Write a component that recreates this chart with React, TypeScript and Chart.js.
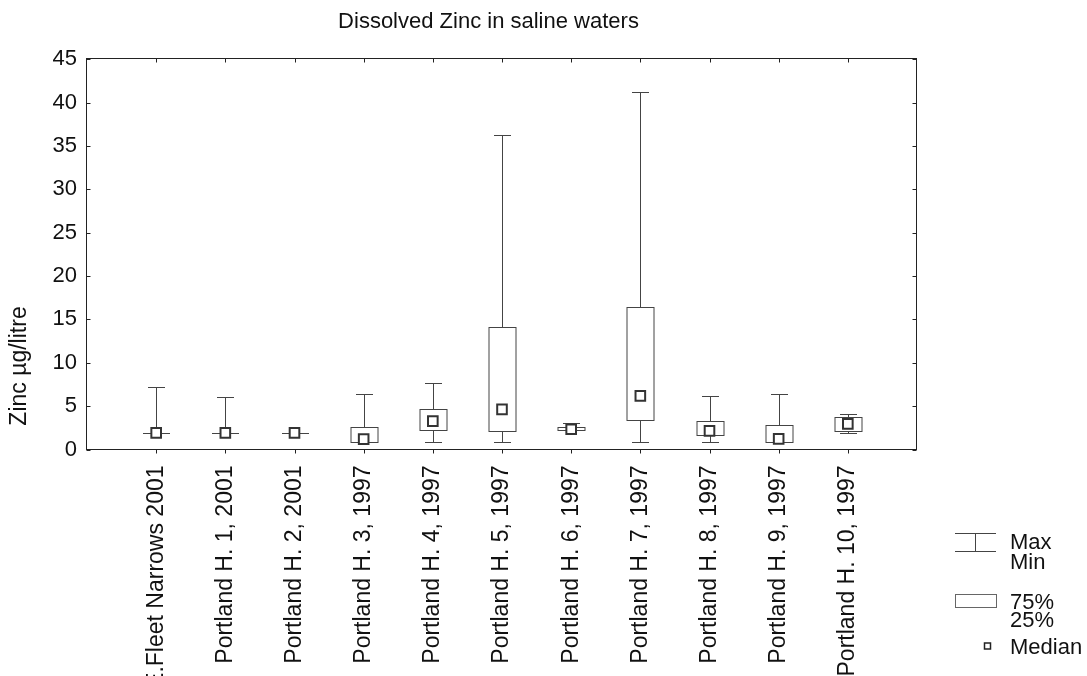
import { useEffect, useRef } from 'react';
import { Chart, registerables } from 'chart.js';

Chart.register(...registerables);

const TITLE = 'Dissolved Zinc in saline waters';
const Y_TITLE = 'Zinc µg/litre';
const CATEGORIES = [
  'E.Fleet Narrows 2001',
  'Portland H. 1, 2001',
  'Portland H. 2, 2001',
  'Portland H. 3, 1997',
  'Portland H. 4, 1997',
  'Portland H. 5, 1997',
  'Portland H. 6, 1997',
  'Portland H. 7, 1997',
  'Portland H. 8, 1997',
  'Portland H. 9, 1997',
  'Portland H. 10, 1997',
];
const MAXS = [7.22, 6.0, 1.95, 6.42, 7.62, 36.27, 3.06, 41.26, 6.18, 6.42, 4.15];
const Q3S = [1.92, 1.92, 1.92, 2.65, 4.68, 14.08, 2.6, 16.45, 3.3, 2.77, 3.76];
const MEDIANS = [1.92, 1.92, 1.92, 1.19, 3.27, 4.62, 2.33, 6.18, 2.15, 1.22, 2.95];
const Q1S = [1.92, 1.92, 1.92, 0.92, 2.26, 2.19, 2.25, 3.35, 1.68, 0.92, 2.15];
const MINS = [1.92, 1.92, 1.92, 0.92, 0.92, 0.92, 2.2, 0.92, 0.92, 0.92, 1.85];
const Y_MIN = 0;
const Y_MAX = 45;
const Y_STEP = 5;
const LEGEND_ITEMS = ['Max', 'Min', '75%', '25%', 'Median'];

const FONT = '"Liberation Sans", Arial, sans-serif';

const px = (v: number) => Math.round(v) + 0.5;

const boxPlugin = {
  id: 'boxWhisker',
  beforeDatasetsDraw(chart: any) {
    const ctx = chart.ctx;
    const xs = chart.scales.x;
    const ys = chart.scales.y;
    ctx.save();
    ctx.lineWidth = 1;
    ctx.strokeStyle = '#444';
    const capHalf = 8.5;
    const boxHalf = 13.5;
    CATEGORIES.forEach((_, i) => {
      const x = px(xs.getPixelForValue(i + 1));
      const yMax = px(ys.getPixelForValue(MAXS[i]));
      const yMin = px(ys.getPixelForValue(MINS[i]));
      const yQ3 = px(ys.getPixelForValue(Q3S[i]));
      const yQ1 = px(ys.getPixelForValue(Q1S[i]));
      ctx.beginPath();
      ctx.moveTo(x, yMax);
      ctx.lineTo(x, yQ3);
      ctx.moveTo(x, yQ1);
      ctx.lineTo(x, yMin);
      ctx.moveTo(x - capHalf, yMax);
      ctx.lineTo(x + capHalf, yMax);
      ctx.moveTo(x - capHalf, yMin);
      ctx.lineTo(x + capHalf, yMin);
      ctx.stroke();
      ctx.fillStyle = '#fff';
      ctx.fillRect(x - boxHalf, yQ3, boxHalf * 2, yQ1 - yQ3);
      ctx.strokeRect(x - boxHalf, yQ3, boxHalf * 2, yQ1 - yQ3);
    });
    ctx.restore();
  },
  afterDraw(chart: any) {
    const ctx = chart.ctx;
    const { left, right, top, bottom } = chart.chartArea;
    const xs = chart.scales.x;
    const ys = chart.scales.y;
    ctx.save();
    ctx.strokeStyle = '#222';
    ctx.lineWidth = 1;
    const L = px(left) - 1, R = px(right) - 1, T = px(top) - 1, B = px(bottom) - 1;
    ctx.strokeRect(L, T, R - L, B - T);
    ctx.beginPath();
    xs.ticks.forEach((t: any) => {
      const x = px(xs.getPixelForValue(t.value));
      ctx.moveTo(x, B);
      ctx.lineTo(x, B + 4);
      ctx.moveTo(x, T);
      ctx.lineTo(x, T + 4);
    });
    ys.ticks.forEach((t: any) => {
      const y = px(ys.getPixelForValue(t.value));
      ctx.moveTo(L, y);
      ctx.lineTo(L + 4, y);
      ctx.moveTo(R, y);
      ctx.lineTo(R - 4, y);
    });
    ctx.stroke();

    ctx.fillStyle = '#111';
    ctx.font = `23px ${FONT}`;
    ctx.textAlign = 'center';
    ctx.textBaseline = 'middle';
    ctx.save();
    ctx.translate(20, 366);
    ctx.rotate(-Math.PI / 2);
    ctx.fillText(Y_TITLE, 0, 0);
    ctx.restore();

    ctx.strokeStyle = '#444';
    ctx.beginPath();
    ctx.moveTo(955, 533.5);
    ctx.lineTo(996, 533.5);
    ctx.moveTo(955, 551.5);
    ctx.lineTo(996, 551.5);
    ctx.moveTo(975.5, 533.5);
    ctx.lineTo(975.5, 551.5);
    ctx.stroke();
    ctx.strokeStyle = '#666';
    ctx.strokeRect(955.5, 594.5, 41, 13);
    ctx.strokeStyle = '#222';
    ctx.lineWidth = 1.5;
    ctx.strokeRect(984.5, 643, 6, 6);
    ctx.fillStyle = '#111';
    ctx.font = `22px ${FONT}`;
    ctx.textAlign = 'left';
    ctx.textBaseline = 'middle';
    const ly = [543, 563, 603, 621, 648];
    LEGEND_ITEMS.forEach((t, i) => ctx.fillText(t, 1010, ly[i]));
    ctx.restore();
  },
};

export default function App() {
  const ref = useRef<HTMLCanvasElement>(null);
  useEffect(() => {
    if (!ref.current) return;
    const chart = new Chart(ref.current, {
      type: 'scatter',
      data: {
        datasets: [
          {
            label: 'Median',
            data: MEDIANS.map((m, i) => ({ x: i + 1, y: m })),
            pointStyle: 'rect',
            pointRadius: 6.8,
            pointBorderWidth: 2,
            pointBorderColor: '#333',
            pointBackgroundColor: '#fff',
            showLine: false,
          },
        ],
      },
      plugins: [boxPlugin],
      options: {
        responsive: false,
        animation: false,
        events: [],
        layout: { padding: { left: 0, right: 110, top: 0, bottom: 0 } },
        plugins: {
          legend: { display: false },
          tooltip: { enabled: false },
          title: {
            display: true,
            text: TITLE,
            color: '#111',
            font: { family: FONT, size: 22, weight: 'normal', lineHeight: 1.2 },
            padding: { top: 9, bottom: 23.8 },
          },
        },
        scales: {
          x: {
            type: 'linear',
            position: 'bottom',
            min: 0,
            max: CATEGORIES.length + 1,
            afterBuildTicks: (scale: any) => {
              scale.ticks = CATEGORIES.map((_, i) => ({ value: i + 1 }));
            },
            afterFit: (scale: any) => {
              scale.height = 226.5;
            },
            grid: { display: false, drawTicks: false },
            border: { display: false },
            ticks: {
              autoSkip: false,
              minRotation: 90,
              maxRotation: 90,
              padding: 16,
              color: '#111',
              font: { family: FONT, size: 23 },
              callback: (v: any) => CATEGORIES[Number(v) - 1] ?? '',
            },
          },
          y: {
            type: 'linear',
            position: 'left',
            min: Y_MIN,
            max: Y_MAX,
            afterFit: (scale: any) => {
              scale.width = 87;
            },
            grid: { display: false, drawTicks: false },
            border: { display: false },
            ticks: {
              stepSize: Y_STEP,
              padding: 10,
              color: '#111',
              font: { family: FONT, size: 22 },
            },
          },
          y2: {
            type: 'linear',
            position: 'right',
            min: Y_MIN,
            max: Y_MAX,
            afterFit: (scale: any) => {
              scale.width = 60;
            },
            grid: { display: false, drawTicks: false },
            border: { display: false },
            ticks: { display: false },
          },
        },
      },
    });
    return () => chart.destroy();
  }, []);
  return (
    <div style={{ position: 'fixed', left: 0, top: 0, width: 1087, height: 676, background: '#fff' }}>
      <canvas ref={ref} width={1087} height={676} />
    </div>
  );
}
